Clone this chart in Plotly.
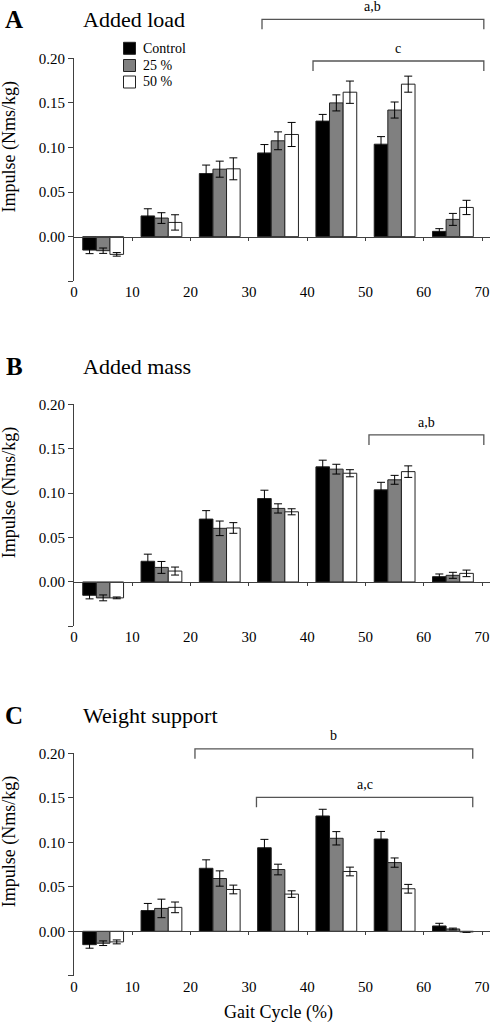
import plotly.graph_objects as go

# ---------------- data ----------------
gait_centers = [5, 15, 25, 35, 45, 55, 65]
x_tick_vals = [0, 10, 20, 30, 40, 50, 60, 70]
x_tick_text = ["0", "10", "20", "30", "40", "50", "60", "70"]
y_tick_vals = [-0.05, 0.0, 0.05, 0.10, 0.15, 0.20]
y_tick_text = ["", "0.00", "0.05", "0.10", "0.15", "0.20"]

series_names = ["Control", "25 %", "50 %"]
series_colors = ["#000000", "#808080", "#ffffff"]

control = [-0.0150, 0.0233, 0.0708, 0.0939, 0.1296, 0.1037, 0.0060]
control_err = [0.0040, 0.0080, 0.0095, 0.0094, 0.0075, 0.0085, 0.0030]

load_25 = [-0.0157, 0.0209, 0.0757, 0.1075, 0.1500, 0.1420, 0.0194]
load_25_err = [0.0030, 0.0060, 0.0090, 0.0100, 0.0090, 0.0090, 0.0067]
load_50 = [-0.0198, 0.0160, 0.0761, 0.1146, 0.1620, 0.1710, 0.0328]
load_50_err = [0.0020, 0.0086, 0.0123, 0.0135, 0.0125, 0.0090, 0.0080]

mass_25 = [-0.0179, 0.0164, 0.0604, 0.0828, 0.1270, 0.1150, 0.0075]
mass_25_err = [0.0033, 0.0067, 0.0082, 0.0052, 0.0055, 0.0050, 0.0034]
mass_50 = [-0.0179, 0.0123, 0.0608, 0.0790, 0.1224, 0.1242, 0.0097]
mass_50_err = [0.0010, 0.0045, 0.0060, 0.0034, 0.0040, 0.0065, 0.0037]

support_25 = [-0.0134, 0.0257, 0.0593, 0.0694, 0.1045, 0.0772, 0.0026]
support_25_err = [0.0026, 0.0104, 0.0086, 0.0060, 0.0075, 0.0052, 0.0010]
support_50 = [-0.0119, 0.0269, 0.0470, 0.0418, 0.0672, 0.0478, -0.0007]
support_50_err = [0.0022, 0.0060, 0.0049, 0.0037, 0.0049, 0.0049, 0.0005]

panel_letters = ["A", "B", "C"]
panel_titles = ["Added load", "Added mass", "Weight support"]
# significance brackets: (x start, x end, y level, label) in data units
brackets = [
    [(32.25, 70.3, 0.2437, "a,b"), (41.0, 70.3, 0.1970, "c")],
    [(50.6, 70.3, 0.1655, "a,b")],
    [(20.75, 68.4, 0.2050, "b"), (31.3, 68.4, 0.1505, "a,c")],
]

panels = [
    [(control, control_err), (load_25, load_25_err), (load_50, load_50_err)],
    [(control, control_err), (mass_25, mass_25_err), (mass_50, mass_50_err)],
    [(control, control_err), (support_25, support_25_err), (support_50, support_50_err)],
]

# ---------------- layout geometry ----------------
W, H = 492, 1022
FONT = "Liberation Serif"
AX = "#404040"
XMIN, XMAX = 0, 71.36
YMIN, YMAX = -0.05, 0.20
x_dom = [74 / W, 490 / W]
panel_px = [(58.3, 281.3), (404.3, 626.4), (753.3, 975.8)]  # (top, bottom) pixels
y_doms = [[1 - b / H, 1 - t / H] for t, b in panel_px]


def py(p):
    return 1 - p / H


def px(p):
    return p / W


def dx(v):
    return x_dom[0] + (v - XMIN) / (XMAX - XMIN) * (x_dom[1] - x_dom[0])


def dy(i, v):
    d0, d1 = y_doms[i]
    return d0 + (v - YMIN) / (YMAX - YMIN) * (d1 - d0)


fig = go.Figure()
layout = dict(
    template="none",
    width=W, height=H, autosize=False,
    margin=dict(l=0, r=0, t=0, b=0, pad=0, autoexpand=False),
    paper_bgcolor="white", plot_bgcolor="white",
    barmode="group", bargap=0.3, bargroupgap=0.0,
    showlegend=False,
    font=dict(family=FONT, size=15, color="black"),
)
shapes = []
annotations = []

for i, panel in enumerate(panels):
    xa = "x" if i == 0 else f"x{i + 1}"
    ya = "y" if i == 0 else f"y{i + 1}"
    for (vals, errs), name, col in zip(panel, series_names, series_colors):
        fig.add_trace(go.Bar(
            x=gait_centers, y=vals, name=name, xaxis=xa, yaxis=ya,
            marker=dict(color=col, line=dict(color="#222222", width=1)),
            error_y=dict(type="data", array=errs, visible=True,
                         color="black", thickness=1, width=4),
            showlegend=False,
        ))
    # invisible trace for the zero-line axis
    ov = f"x{i + 4}"
    fig.add_trace(go.Scatter(x=[XMIN], y=[0], xaxis=ov, yaxis=ya,
                             mode="markers", marker=dict(opacity=0),
                             hoverinfo="skip", showlegend=False))

    key = "" if i == 0 else str(i + 1)
    layout["xaxis" + key] = dict(
        domain=x_dom, range=[XMIN, XMAX], anchor=ya, automargin=False,
        tickvals=x_tick_vals, ticktext=x_tick_text, ticks="",
        ticklabeloverflow="allow",
        showline=False, showgrid=False, zeroline=False,
        tickfont=dict(family=FONT, size=15, color="black"),
    )
    layout["yaxis" + key] = dict(
        domain=y_doms[i], range=[YMIN, YMAX], anchor=xa, automargin=False,
        tickvals=y_tick_vals, ticktext=y_tick_text,
        ticks="outside", ticklen=5, tickcolor=AX, tickwidth=1,
        showline=True, linecolor=AX, linewidth=1,
        showgrid=False, zeroline=False,
        tickfont=dict(family=FONT, size=15, color="black"),
    )
    layout[f"xaxis{i + 4}"] = dict(
        domain=x_dom, range=[XMIN, XMAX], overlaying=xa, automargin=False,
        anchor="free", position=dy(i, 0.0),
        tickvals=x_tick_vals[1:], ticks="outside", ticklen=3, tickcolor=AX, tickwidth=1,
        showticklabels=False, showline=True, linecolor=AX, linewidth=1,
        showgrid=False, zeroline=False,
    )

    # panel letter and title
    title_y = [19, 366, 715][i]
    annotations.append(dict(text="<b>" + panel_letters[i] + "</b>", x=px(14), y=py(title_y),
                            xref="paper", yref="paper", showarrow=False,
                            xanchor="center", yanchor="middle",
                            font=dict(family=FONT, size=25, color="black")))
    annotations.append(dict(text=panel_titles[i], x=px(81), y=py(title_y),
                            xref="paper", yref="paper", showarrow=False,
                            xanchor="left", yanchor="middle",
                            font=dict(family=FONT, size=22, color="black")))
    # y axis title centered on the positive part
    annotations.append(dict(text="Impulse (Nms/kg)", textangle=-90,
                            x=px(9), y=dy(i, 0.10),
                            xref="paper", yref="paper", showarrow=False,
                            xanchor="center", yanchor="middle",
                            font=dict(family=FONT, size=18, color="black")))
    # brackets
    for x0, x1, yl, lab in brackets[i]:
        drop = 0.0112
        shapes.append(dict(
            type="path", xref="paper", yref="paper",
            path=f"M {dx(x0)},{dy(i, yl - drop)} L {dx(x0)},{dy(i, yl)} "
                 f"L {dx(x1)},{dy(i, yl)} L {dx(x1)},{dy(i, yl - drop)}",
            line=dict(color="#555555", width=1.3),
        ))
        annotations.append(dict(text=lab, x=(dx(x0) + dx(x1)) / 2, y=dy(i, yl + 0.0145),
                                xref="paper", yref="paper", showarrow=False,
                                xanchor="center", yanchor="middle",
                                font=dict(family=FONT, size=14, color="black")))

# manual legend (panel A)
for k, (name, col) in enumerate(zip(series_names, series_colors)):
    cy = [48.3, 65.5, 82.0][k]
    shapes.append(dict(type="rect", xref="paper", yref="paper",
                       x0=px(123.5), x1=px(135.5), y0=py(cy + 6), y1=py(cy - 6),
                       fillcolor=col, line=dict(color="#222222", width=1)))
    annotations.append(dict(text=name, x=px(141), y=py(cy),
                            xref="paper", yref="paper", showarrow=False,
                            xanchor="left", yanchor="middle",
                            font=dict(family=FONT, size=14, color="black")))

annotations.append(dict(text="Gait Cycle (%)", x=px(278), y=py(1012),
                        xref="paper", yref="paper", showarrow=False,
                        xanchor="center", yanchor="middle",
                        font=dict(family=FONT, size=18, color="black")))

layout["shapes"] = shapes
layout["annotations"] = annotations
fig.update_layout(**layout)
fig.write_html("out.html", config={"displayModeBar": False},
               post_script="document.body.style.margin='0';document.body.style.overflow='hidden';")
